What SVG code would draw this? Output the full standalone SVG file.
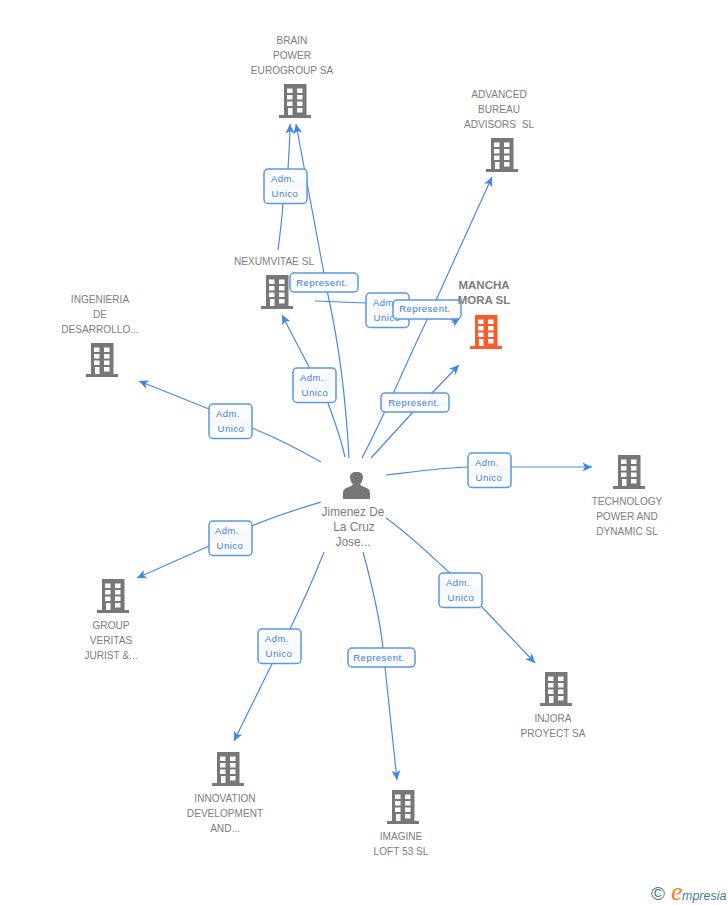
<svg xmlns="http://www.w3.org/2000/svg" width="728" height="905" viewBox="0 0 728 905">
<style>
text{font-family:"Liberation Sans",Arial,sans-serif}
.n{font-size:10.1px;fill:#7d7d7d;text-anchor:middle}
.p{font-size:11.900px;fill:#7d7d7d;text-anchor:middle}
.b{font-size:11.500px;font-weight:bold;fill:#7d7d7d;text-anchor:middle}
.e{fill:none;stroke:#4a8ae6;stroke-width:1.2}
.lb{fill:url(#g);stroke:#5a97ea;stroke-width:1.500}
.lt{font-size:9.500px;fill:#3d7fe0;text-anchor:middle;letter-spacing:.5px}
</style>
<defs>
<linearGradient id="g" x1="0" y1="0" x2="0" y2="1"><stop offset="0" stop-color="#fff"/><stop offset=".5" stop-color="#f7f8fa"/><stop offset="1" stop-color="#fff"/></linearGradient>
<marker id="a" markerUnits="userSpaceOnUse" markerWidth="12" markerHeight="10" refX="9.500" refY="5" orient="auto"><path d="M0 .5L9.500 5L0 9.500L2.500 5Z" fill="#3f85e8"/></marker>
<g id="bd"><path fill-rule="evenodd" d="M5 0H27.500V31H32V34H0V31H5ZM8 4.500V9H13.500V4.500ZM18 4.500V9H23.500V4.500ZM8 11V15.500H13.500V11ZM18 11V15.500H23.500V11ZM8 17.500V22H13.500V17.500ZM18 17.500V22H23.500V17.500ZM9 24V31H13.500V24ZM18 24V28.500H23.500V24Z"/></g>
</defs>
<g id="connectors">
<path class="e" marker-end="url(#a)" d="M278 250C280 235 282 220 283 203L288 169C289 150 290 140 290 124"/>
<path class="e" marker-end="url(#a)" d="M349 458C346 400 338 340 328 295L296 124"/>
<path class="e" marker-end="url(#a)" d="M362 458C385 415 405 365 427 320L492 177"/>
<path class="e" marker-end="url(#a)" d="M371 458L413 412L432 393L459 365"/>
<path class="e" marker-end="url(#a)" d="M315 301L366 303L390 305M452 323L460 318"/>
<path class="e" marker-end="url(#a)" d="M345 457C340 435 334 420 328 403L309 367L282 315"/>
<path class="e" marker-end="url(#a)" d="M321 462C300 450 275 437 252 428L209 409L139 381"/>
<path class="e" marker-end="url(#a)" d="M321 502C295 510 272 517 252 526L209 546L137 578"/>
<path class="e" marker-end="url(#a)" d="M324 552C315 575 303 602 290 629L272 664L234 741"/>
<path class="e" marker-end="url(#a)" d="M363 552C372 585 380 620 383 648L385 667L397 780"/>
<path class="e" marker-end="url(#a)" d="M386 518C410 535 430 555 450 573L482 607L535 663"/>
<path class="e" marker-end="url(#a)" d="M386 475C420 471 440 468 468 467L592 467"/>
</g>
<g id="edge-labels">
<rect class="lb" x="264" y="169" width="43" height="34.500" rx="4"/><text class="lt" x="283" y="182">Adm.</text><text class="lt" x="285" y="197">Unico</text>
<rect class="lb" x="290" y="273" width="68" height="19" rx="4"/><text class="lt" x="322" y="286">Represent.</text>
<rect class="lb" x="366" y="293" width="43" height="34.500" rx="4"/><text class="lt" x="385" y="306">Adm.</text><text class="lt" x="387" y="321">Unico</text>
<rect class="lb" x="393" y="300" width="68" height="19" rx="4"/><text class="lt" x="425" y="312">Represent.</text>
<rect class="lb" x="293" y="368" width="43" height="34.500" rx="4"/><text class="lt" x="312" y="381">Adm.</text><text class="lt" x="315" y="396">Unico</text>
<rect class="lb" x="381" y="393" width="68" height="19" rx="4"/><text class="lt" x="414" y="406">Represent.</text>
<rect class="lb" x="209" y="404" width="43" height="34.500" rx="4"/><text class="lt" x="228" y="417">Adm.</text><text class="lt" x="231" y="432">Unico</text>
<rect class="lb" x="468" y="453" width="43" height="34.500" rx="4"/><text class="lt" x="487" y="466">Adm.</text><text class="lt" x="489" y="481">Unico</text>
<rect class="lb" x="209" y="521" width="43" height="34.500" rx="4"/><text class="lt" x="227" y="534">Adm.</text><text class="lt" x="230" y="549">Unico</text>
<rect class="lb" x="439" y="573" width="43" height="34.500" rx="4"/><text class="lt" x="458" y="586">Adm.</text><text class="lt" x="461" y="601">Unico</text>
<rect class="lb" x="258" y="629" width="43" height="34.500" rx="4"/><text class="lt" x="277" y="642">Adm.</text><text class="lt" x="279" y="657">Unico</text>
<rect class="lb" x="348" y="648" width="67" height="19" rx="4"/><text class="lt" x="379" y="661">Represent.</text>
</g>
<g id="brain-power"><use href="#bd" x="279" y="84" fill="#777"/><text class="n" x="292" y="44">BRAIN</text><text class="n" x="292" y="59">POWER</text><text class="n" x="292" y="74">EUROGROUP SA</text></g>
<g id="advanced-bureau"><use href="#bd" x="486" y="138" fill="#777"/><text class="n" x="499" y="98">ADVANCED</text><text class="n" x="499" y="113">BUREAU</text><text class="n" x="499" y="128" xml:space="preserve">ADVISORS  SL</text></g>
<g id="nexumvitae"><use href="#bd" x="261" y="275" fill="#777"/><text class="n" x="274" y="265">NEXUMVITAE SL</text></g>
<g id="mancha-mora"><use href="#bd" x="470" y="315" fill="#ff5a2b"/><text class="b" x="484" y="289">MANCHA</text><text class="b" x="484" y="304">MORA SL</text></g>
<g id="ingenieria"><use href="#bd" x="86" y="343" fill="#777"/><text class="n" x="100" y="303">INGENIERIA</text><text class="n" x="100" y="318">DE</text><text class="n" x="100" y="333">DESARROLLO...</text></g>
<g id="technology"><use href="#bd" x="613" y="455" fill="#777"/><text class="n" x="627" y="505">TECHNOLOGY</text><text class="n" x="627" y="520">POWER AND</text><text class="n" x="627" y="535">DYNAMIC SL</text></g>
<g id="group-veritas"><use href="#bd" x="97" y="579" fill="#777"/><text class="n" x="111" y="629">GROUP</text><text class="n" x="111" y="644">VERITAS</text><text class="n" x="111" y="659">JURIST &amp;...</text></g>
<g id="injora"><use href="#bd" x="540" y="672" fill="#777"/><text class="n" x="553" y="722">INJORA</text><text class="n" x="553" y="737">PROYECT SA</text></g>
<g id="innovation"><use href="#bd" x="212" y="752" fill="#777"/><text class="n" x="225" y="802">INNOVATION</text><text class="n" x="225" y="817">DEVELOPMENT</text><text class="n" x="225" y="832">AND...</text></g>
<g id="imagine"><use href="#bd" x="387" y="790" fill="#777"/><text class="n" x="401" y="840">IMAGINE</text><text class="n" x="401" y="855">LOFT 53 SL</text></g>
<g id="person"><path fill="#777" d="M343 499V493C343 489 346 488 351 486L353 484.500C350 481 350 478 350 477C350 474 352 472 356.500 472C361 472 363 474 363 477C363 478 363 481 360 484.500L362 486C367 488 370 489 370 493V499Z"/><text class="p" x="353" y="516">Jimenez De</text><text class="p" x="354" y="531">La Cruz</text><text class="p" x="353" y="546">Jose...</text></g>
<g id="logo"><text x="651" y="900" style="font-size:19px" fill="#3f7d96">©</text><text x="671" y="900" style="font-size:26px;font-style:italic;font-family:'Liberation Serif',serif" fill="#f58220">e</text><text x="682" y="900" style="font-size:12.500px;font-style:italic" fill="#3f7d96">mpresia</text></g>
</svg>
